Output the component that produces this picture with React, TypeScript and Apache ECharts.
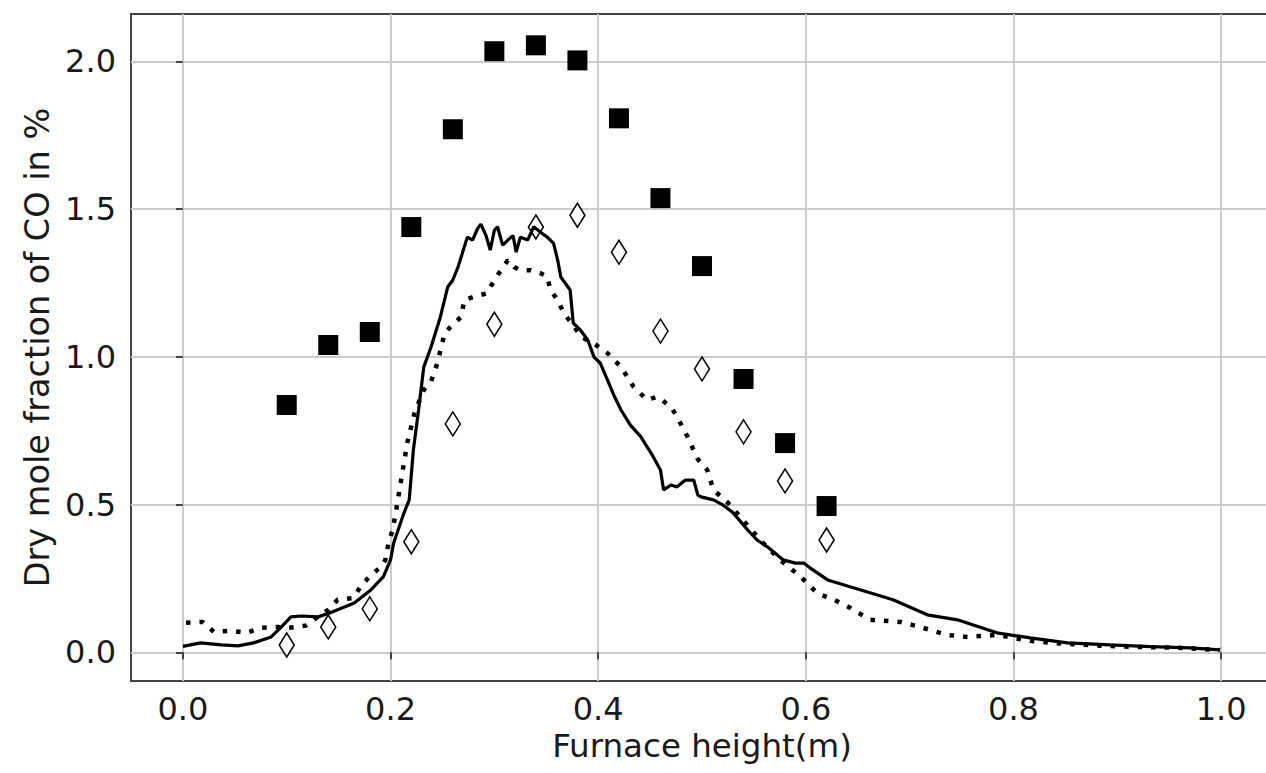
import React, { useEffect, useRef } from "react";
import * as echarts from "echarts";

// Experimental points (x = furnace height in m)
const pointHeights = [0.10, 0.14, 0.18, 0.22, 0.26, 0.30, 0.34, 0.38, 0.42, 0.46, 0.50, 0.54, 0.58, 0.62];
const squareValues = [0.837, 1.04, 1.084, 1.439, 1.77, 2.034, 2.054, 2.003, 1.807, 1.537, 1.307, 0.925, 0.708, 0.495];
const diamondValues = [0.025, 0.086, 0.147, 0.374, 0.773, 1.11, 1.439, 1.479, 1.354, 1.087, 0.959, 0.746, 0.58, 0.38];

// Solid simulation curve
const solidX = [0.0, 0.017, 0.037, 0.053, 0.068, 0.085, 0.094, 0.104, 0.114, 0.130, 0.142, 0.165, 0.181, 0.193, 0.200, 0.203, 0.213, 0.218, 0.222, 0.227, 0.232, 0.239, 0.248, 0.255, 0.260, 0.265, 0.274, 0.279, 0.284, 0.287, 0.292, 0.296, 0.300, 0.303, 0.308, 0.313, 0.318, 0.321, 0.325, 0.332, 0.338, 0.345, 0.351, 0.357, 0.361, 0.364, 0.373, 0.376, 0.383, 0.390, 0.396, 0.402, 0.409, 0.415, 0.422, 0.431, 0.441, 0.453, 0.460, 0.463, 0.470, 0.476, 0.484, 0.492, 0.496, 0.499, 0.511, 0.520, 0.530, 0.544, 0.553, 0.563, 0.578, 0.590, 0.598, 0.604, 0.621, 0.653, 0.684, 0.717, 0.746, 0.784, 0.816, 0.852, 0.893, 0.932, 0.970, 0.999];
const solidY = [0.02, 0.032, 0.025, 0.022, 0.032, 0.052, 0.083, 0.12, 0.123, 0.12, 0.134, 0.167, 0.211, 0.255, 0.313, 0.37, 0.472, 0.516, 0.685, 0.82, 0.965, 1.033, 1.135, 1.236, 1.26, 1.304, 1.405, 1.395, 1.435, 1.449, 1.41, 1.361, 1.428, 1.44, 1.378, 1.395, 1.41, 1.354, 1.405, 1.395, 1.44, 1.42, 1.405, 1.384, 1.327, 1.27, 1.226, 1.114, 1.09, 1.057, 0.999, 0.979, 0.921, 0.871, 0.82, 0.769, 0.73, 0.662, 0.617, 0.55, 0.566, 0.56, 0.583, 0.583, 0.532, 0.526, 0.516, 0.499, 0.472, 0.414, 0.38, 0.357, 0.313, 0.302, 0.302, 0.286, 0.245, 0.211, 0.178, 0.127, 0.11, 0.066, 0.049, 0.032, 0.025, 0.019, 0.015, 0.008];

// Dotted simulation curve
const dottedX = [0.003, 0.019, 0.03, 0.046, 0.061, 0.075, 0.091, 0.102, 0.118, 0.13, 0.14, 0.149, 0.164, 0.171, 0.181, 0.191, 0.195, 0.198, 0.202, 0.205, 0.216, 0.223, 0.232, 0.239, 0.245, 0.252, 0.258, 0.268, 0.271, 0.28, 0.293, 0.3, 0.313, 0.319, 0.325, 0.335, 0.345, 0.351, 0.354, 0.361, 0.367, 0.377, 0.383, 0.396, 0.409, 0.422, 0.434, 0.447, 0.457, 0.47, 0.476, 0.486, 0.496, 0.505, 0.511, 0.525, 0.537, 0.556, 0.575, 0.595, 0.611, 0.627, 0.643, 0.662, 0.691, 0.71, 0.736, 0.756, 0.784, 0.816, 0.848, 0.9, 0.963, 0.999];
const dottedY = [0.1, 0.103, 0.069, 0.073, 0.066, 0.083, 0.086, 0.083, 0.09, 0.12, 0.144, 0.178, 0.184, 0.221, 0.262, 0.289, 0.313, 0.37, 0.414, 0.472, 0.707, 0.809, 0.888, 0.916, 0.978, 1.079, 1.102, 1.135, 1.192, 1.203, 1.215, 1.26, 1.327, 1.304, 1.293, 1.293, 1.282, 1.271, 1.226, 1.192, 1.147, 1.102, 1.068, 1.045, 1.012, 0.966, 0.899, 0.854, 0.865, 0.831, 0.797, 0.73, 0.653, 0.617, 0.55, 0.506, 0.458, 0.38, 0.313, 0.256, 0.2, 0.178, 0.15, 0.11, 0.103, 0.086, 0.059, 0.052, 0.059, 0.039, 0.029, 0.02, 0.015, 0.008];

const xTicks = [0, 0.2, 0.4, 0.6, 0.8, 1.0];
const yTicks = [0, 0.5, 1.0, 1.5, 2.0];

const FONT = "DejaVu Sans";

export default function App() {
  const ref = useRef<HTMLDivElement>(null);
  useEffect(() => {
    if (!ref.current) return;
    const chart = echarts.init(ref.current, null, { renderer: "svg" });
    const pair = (xs: number[], ys: number[]) => xs.map((x, i) => [x, ys[i]]);
    chart.setOption({
      animation: false,
      backgroundColor: "#ffffff",
      grid: {
        left: 131,
        top: 14,
        width: 1142,
        bottom: 92,
        outerBoundsMode: "none",
        containLabel: false,
        show: true,
        borderColor: "#444444",
        borderWidth: 2,
        backgroundColor: "transparent",
      },
      xAxis: {
        type: "value",
        min: -0.05,
        max: 1.05,
        name: "Furnace height(m)",
        nameLocation: "middle",
        nameGap: 42,
        nameTextStyle: { fontFamily: FONT, fontSize: 32.5, color: "#1a1a1a" },
        axisLine: { show: false },
        axisTick: {
          show: true,
          length: 7,
          customValues: xTicks,
          lineStyle: { color: "#444444", width: 2 },
        },
        axisLabel: {
          customValues: xTicks,
          margin: 12,
          fontFamily: FONT,
          fontSize: 32,
          color: "#1a1a1a",
          formatter: (v: number) => v.toFixed(1),
        },
        splitLine: { show: true, lineStyle: { color: "#cccccc", width: 2 } },
      },
      yAxis: {
        type: "value",
        min: -0.097,
        max: 2.16,
        name: "Dry mole fraction of CO in %",
        nameLocation: "middle",
        nameGap: 74,
        nameTextStyle: { fontFamily: FONT, fontSize: 33.5, color: "#1a1a1a" },
        axisLine: { show: false },
        axisTick: {
          show: true,
          length: 7,
          customValues: yTicks,
          lineStyle: { color: "#444444", width: 2 },
        },
        axisLabel: {
          customValues: yTicks,
          margin: 15,
          fontFamily: FONT,
          fontSize: 32,
          color: "#1a1a1a",
          formatter: (v: number) => v.toFixed(1),
        },
        splitLine: { show: true, lineStyle: { color: "#cccccc", width: 2 } },
      },
      series: [
        {
          type: "scatter",
          data: pair(pointHeights, diamondValues),
          symbol: "diamond",
          symbolSize: [15, 24],
          itemStyle: { color: "#ffffff", borderColor: "#000000", borderWidth: 1.6, opacity: 1 },
          z: 2,
        },
        {
          type: "line",
          data: pair(dottedX, dottedY),
          showSymbol: false,
          lineStyle: { color: "#000000", width: 4.5, type: [4.5, 9], cap: "butt" },
          z: 3,
        },
        {
          type: "line",
          data: pair(solidX, solidY),
          showSymbol: false,
          lineStyle: { color: "#000000", width: 3.2 },
          z: 4,
        },
        {
          type: "scatter",
          data: pair(pointHeights, squareValues),
          symbol: "rect",
          symbolSize: 20,
          itemStyle: { color: "#000000", opacity: 1 },
          z: 5,
        },
      ],
    });
    return () => chart.dispose();
  }, []);
  return (
    <div
      ref={ref}
      style={{ position: "fixed", left: 0, top: 0, width: 1266, height: 773, background: "#fff" }}
    />
  );
}
